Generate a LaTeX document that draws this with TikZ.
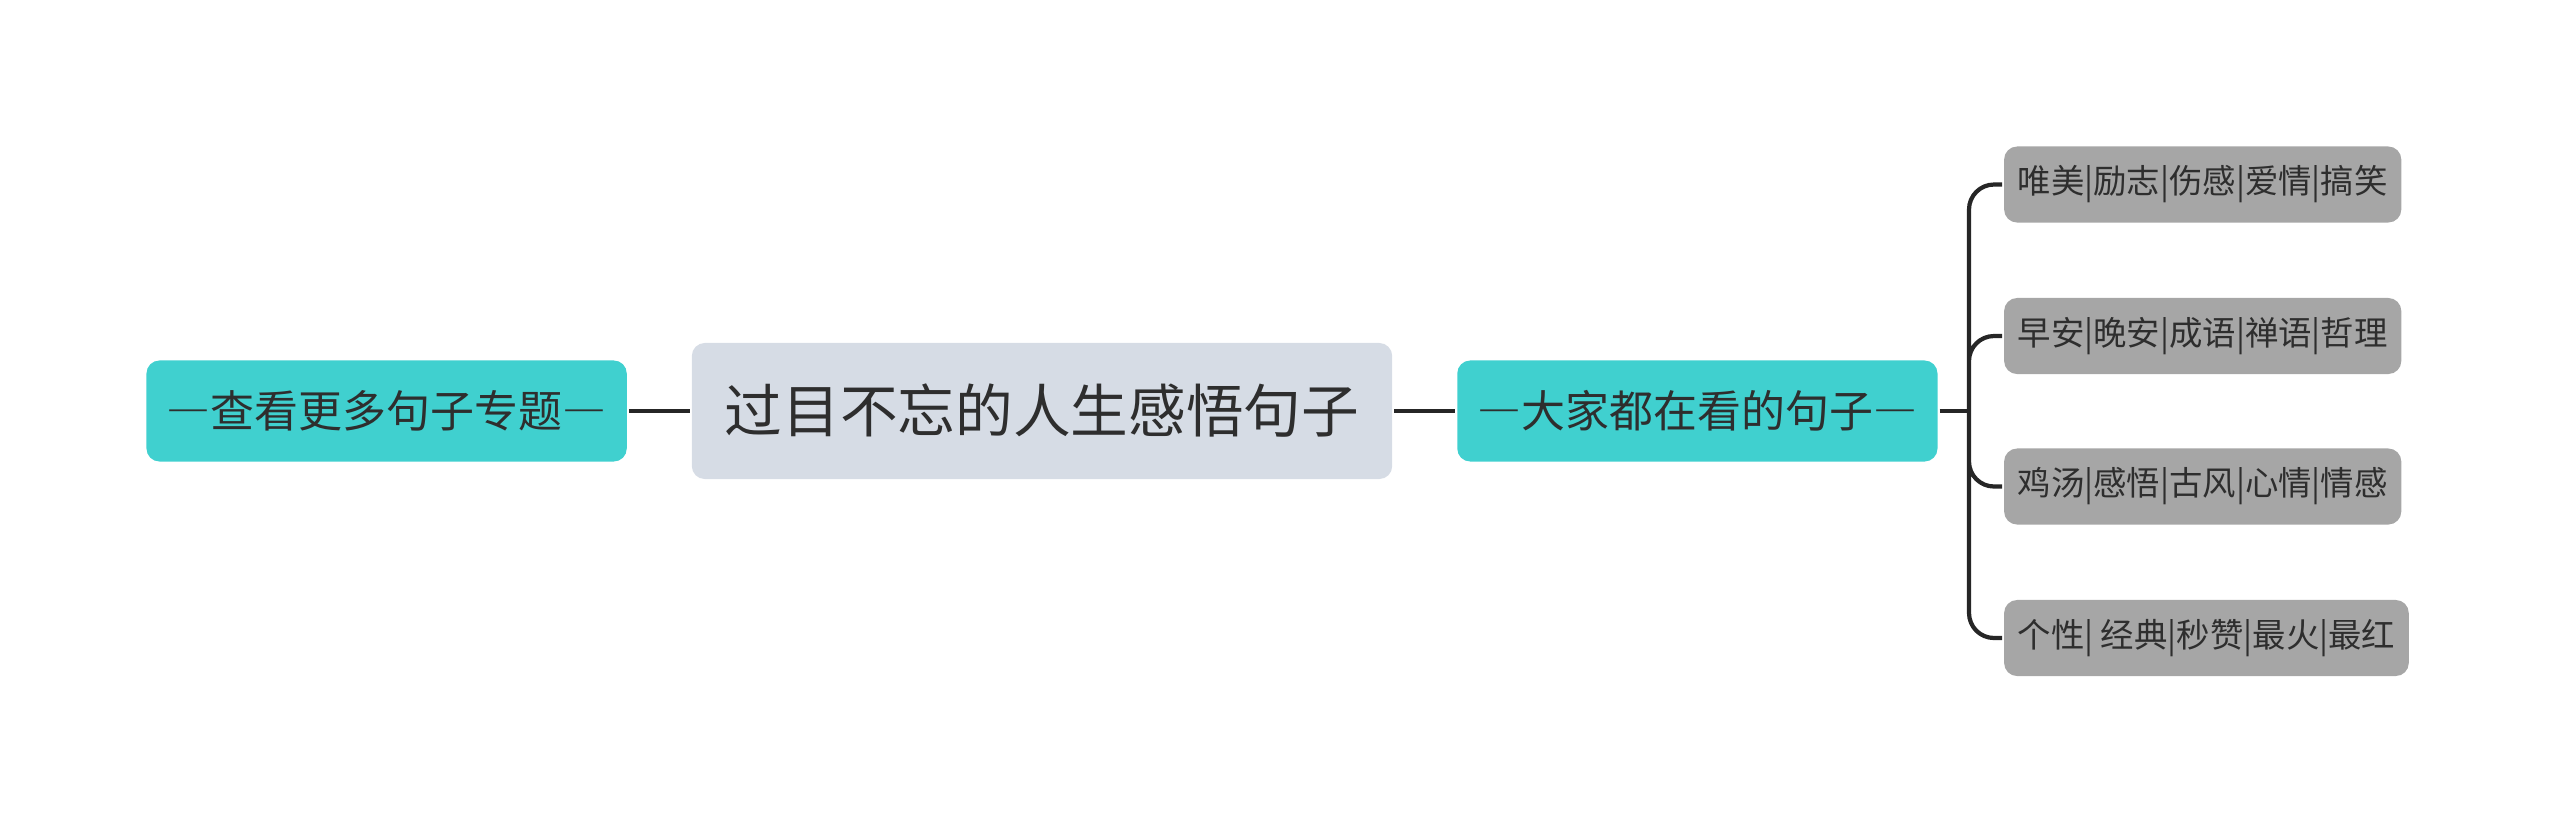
\documentclass[tikz,border=0pt]{standalone}
\usepackage{fontspec}
\newfontfamily\cjk{Noto Sans CJK SC}
\newfontfamily\cjkwide[RawFeature=+fwid]{Noto Sans CJK SC}
\newcommand{\widedash}{{\cjkwide —}}
\usetikzlibrary{arrows}
\definecolor{topicteal}{HTML}{40D0CF}
\definecolor{rootgrey}{HTML}{D6DCE5}
\definecolor{leafgrey}{HTML}{A6A6A6}
\definecolor{inkgrey}{HTML}{2E2E2E}
\definecolor{linegrey}{HTML}{262626}

\begin{document}
\begin{tikzpicture}[x=0.01cm,y=-0.01cm,-,node distance=6.55cm,
			line width=1.2pt,draw=linegrey,
			main node/.style={rectangle,rounded corners=0.13cm,fill=rootgrey,
				text=inkgrey,font=\cjk\fontsize{16.4pt}{18pt}\selectfont,
				minimum width=7cm,minimum height=1.36cm,inner sep=0pt},
			side node/.style={rectangle,rounded corners=0.13cm,fill=topicteal,
				text=inkgrey,font=\cjk\fontsize{12.5pt}{14pt}\selectfont,
				minimum width=4.8cm,minimum height=1.01cm,inner sep=0pt},
			leaf node/.style={rectangle,rounded corners=0.13cm,fill=leafgrey,
				text=inkgrey,font=\cjk\fontsize{9.5pt}{11pt}\selectfont,anchor=west,
				minimum height=0.76cm,inner xsep=0.135cm,inner ysep=0pt}]
			
			\useasboundingbox (0,0) rectangle (2560,823);
			
			\node[main node] (root) at (1042,411) {过目不忘的人生感悟句子};
			\node[side node] (more) [left of=root] {\widedash 查看更多句子专题\widedash};
			\node[side node] (hot) [right of=root] {\widedash 大家都在看的句子\widedash};
			\node[leaf node] (l1) at (2002,184.5) {唯美|励志|伤感|爱情|搞笑};
			\node[leaf node] (l2) at (2002,336) {早安|晚安|成语|禅语|哲理};
			\node[leaf node] (l3) at (2002,486.5) {鸡汤|感悟|古风|心情|情感};
			\node[leaf node] (l4) at (2002,638) {个性| 经典|秒赞|最火|最红};
			\coordinate (fork) at (1969,411);
			
			\path[draw=linegrey]
			(root) edge (more)
			(root) edge (hot)
			(hot) edge (fork);
			\draw[linegrey,rounded corners=0.25cm]
			(fork) |- (l1.west)
			(fork) |- (l2.west)
			(fork) |- (l3.west)
			(fork) |- (l4.west);
			
		\end{tikzpicture}
\end{document}
